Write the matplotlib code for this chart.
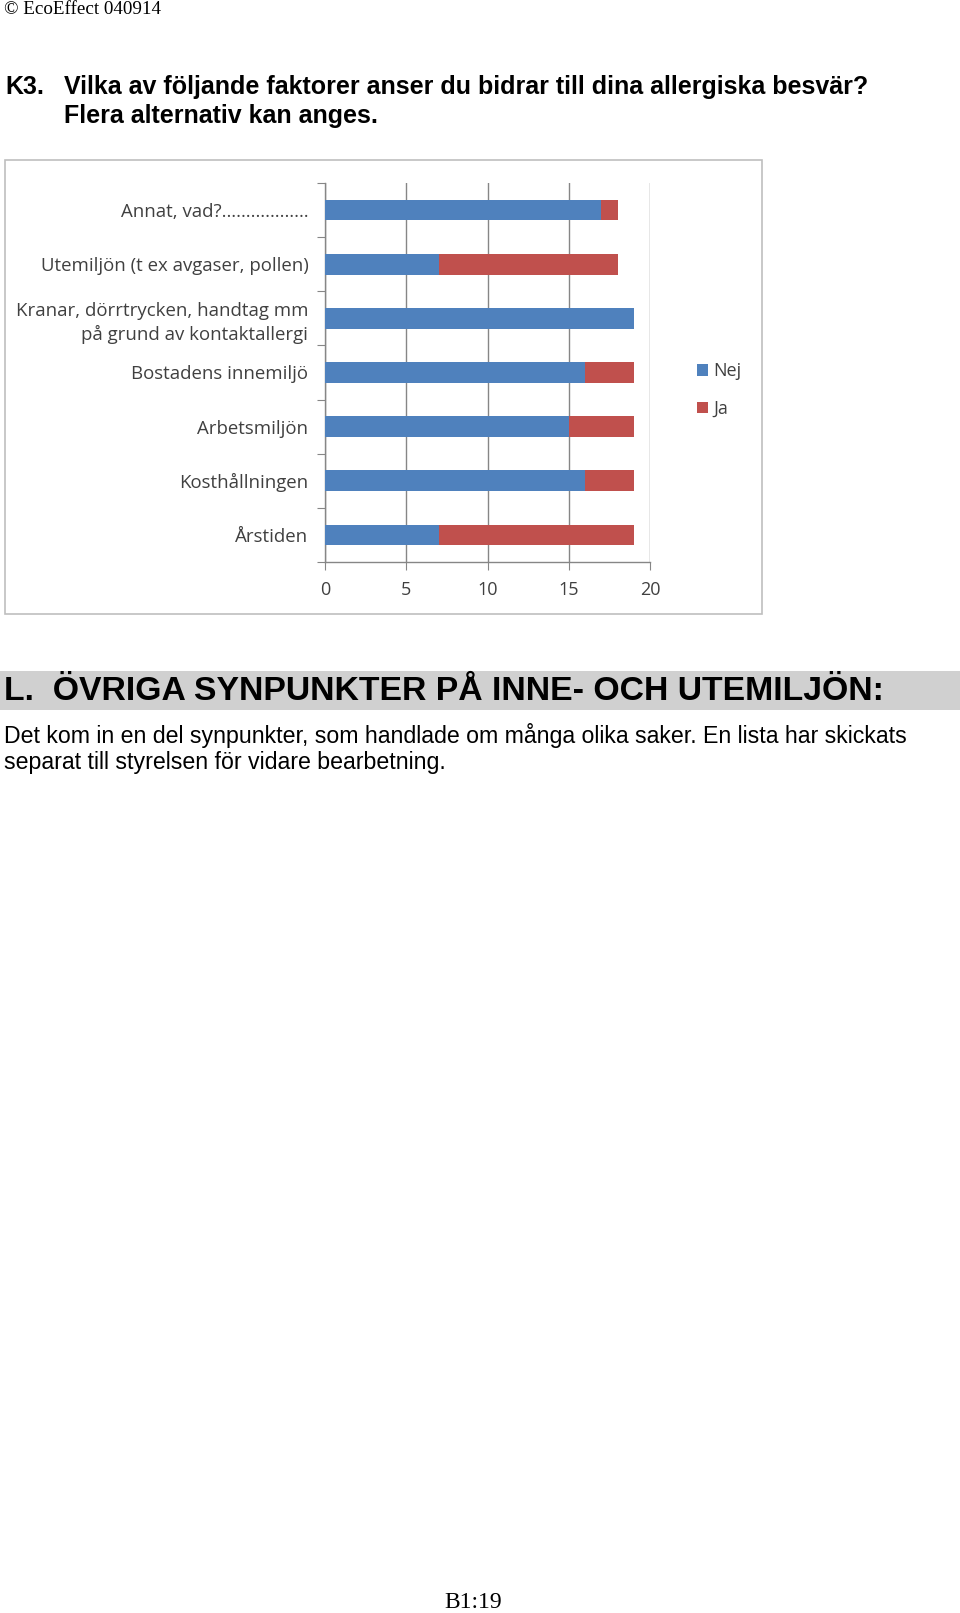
import matplotlib
matplotlib.use("Agg")
import matplotlib.pyplot as plt
from matplotlib.patches import Rectangle
import numpy as np

# ------------------------------------------------------------------
# Data (top to bottom as in the chart)
# ------------------------------------------------------------------
categories = [
    "Annat, vad?………………",
    "Utemiljön (t ex avgaser, pollen)",
    "Kranar, dörrtrycken, handtag mm\npå grund av kontaktallergi",
    "Bostadens innemiljö",
    "Arbetsmiljön",
    "Kosthållningen",
    "Årstiden",
]
nej = [17, 7, 19, 16, 15, 16, 7]
ja = [1, 11, 0, 3, 4, 3, 12]
xticks = [0, 5, 10, 15, 20]

BLUE = "#4F81BD"
RED = "#C0504D"
GRID = "#868686"
LABEL = "#404040"

W, H = 960, 1613
fig = plt.figure(figsize=(W / 100, H / 100), dpi=100)


def fx(px):
    return px / W


def fy(py):
    return 1 - py / H


# ------------------------------------------------------------------
# Page text
# ------------------------------------------------------------------
fig.text(fx(4), fy(9), "© EcoEffect 040914", family="Liberation Serif",
         fontsize=13.7, va="center", ha="left")

fig.text(fx(5), fy(87), "K3.", family="Liberation Sans", weight="bold",
         fontsize=18, va="center")
fig.text(fx(64), fy(87),
         "Vilka av följande faktorer anser du bidrar till dina allergiska besvär?",
         family="Liberation Sans", weight="bold", fontsize=18, va="center")
fig.text(fx(64), fy(116), "Flera alternativ kan anges.",
         family="Liberation Sans", weight="bold", fontsize=18, va="center")

# chart border
fig.patches.append(Rectangle((fx(5), fy(614)), fx(757), 454 / H,
                             transform=fig.transFigure, fill=False,
                             edgecolor="#BFBFBF", linewidth=1.2))

# gray heading band
fig.patches.append(Rectangle((0, fy(710)), 1, 39 / H,
                             transform=fig.transFigure, facecolor="#D0D0D0",
                             edgecolor="none"))
fig.text(fx(4), fy(691), "L.  ÖVRIGA SYNPUNKTER PÅ INNE- OCH UTEMILJÖN:",
         family="Liberation Sans", weight="bold", fontsize=24.3, va="center")
fig.text(fx(4), fy(736),
         "Det kom in en del synpunkter, som handlade om många olika saker. En lista har skickats",
         family="Liberation Sans", fontsize=16.7, va="center")
fig.text(fx(4), fy(763), "separat till styrelsen för vidare bearbetning.",
         family="Liberation Sans", fontsize=16.7, va="center")

fig.text(fx(473), fy(1602), "B1:19", family="Liberation Serif",
         fontsize=17, ha="center", va="center")

# ------------------------------------------------------------------
# Bar chart
# ------------------------------------------------------------------
ax = fig.add_axes([fx(325), fy(562), fx(650) - fx(325), (562 - 183) / H])
y = np.arange(len(categories))[::-1]
ax.barh(y, nej, height=0.38, color=BLUE, label="Nej", zorder=3)
ax.barh(y, ja, left=nej, height=0.38, color=RED, label="Ja", zorder=3)

ax.set_xlim(0, 20)
ax.set_ylim(-0.5, len(categories) - 0.5)
ax.set_xticks(xticks)
ax.set_xticklabels([str(t) for t in xticks], family="Open Sans",
                   fontsize=13, color=LABEL)
ax.set_yticks(np.arange(-0.5, len(categories)), minor=False)
ax.set_yticklabels([])
ax.set_yticks(y, minor=True)
ax.set_yticklabels(categories, minor=True, family="Open Sans", fontsize=13.4,
                   color=LABEL, ha="right", linespacing=1.35)
ax.tick_params(axis="y", which="minor", length=0, pad=12)
ax.tick_params(axis="y", which="major", length=6, color=GRID, direction="out")
ax.tick_params(axis="x", length=6, color=GRID, direction="out", pad=8)

ax.grid(axis="x", color=GRID, linewidth=1, zorder=0)
for side in ["top", "right"]:
    ax.spines[side].set_visible(False)
for side in ["left", "bottom"]:
    ax.spines[side].set_color(GRID)
    ax.spines[side].set_linewidth(1)

handles, labels = ax.get_legend_handles_labels()
fig.legend(handles, labels, loc="upper left",
           bbox_to_anchor=(fx(681), fy(346)), frameon=False,
           prop={"family": "Open Sans", "size": 13},
           handlelength=0.6, handleheight=0.6, handletextpad=0.3,
           labelspacing=1.1, labelcolor=LABEL)

fig.savefig("out.png", dpi=100)
